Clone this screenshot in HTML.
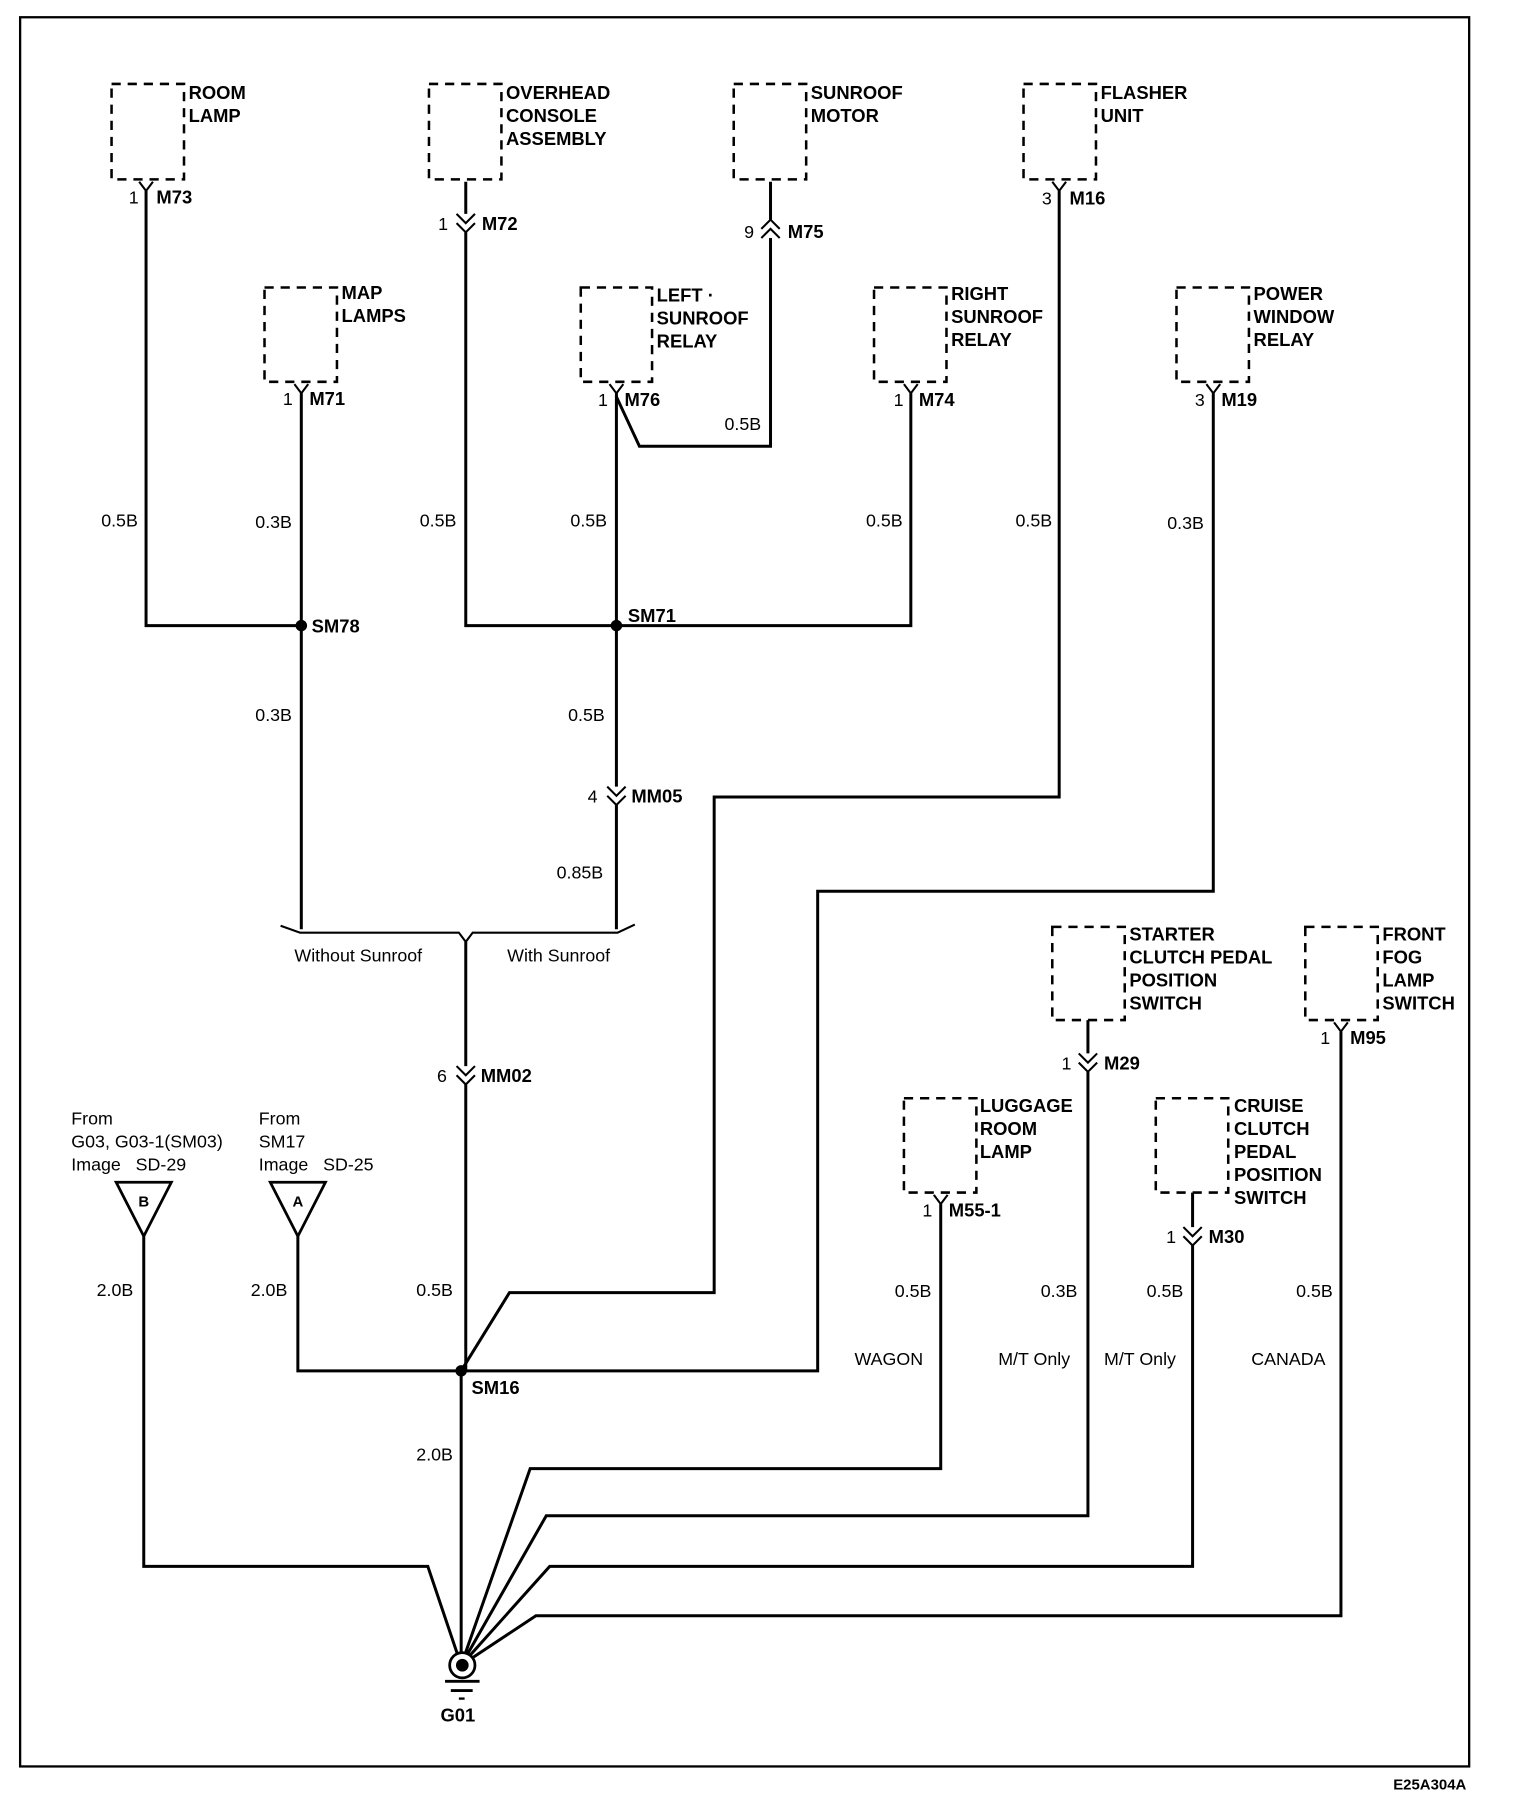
<!DOCTYPE html>
<html><head><meta charset="utf-8"><style>
html,body{margin:0;padding:0;background:#fff}
svg{display:block}
text{font-family:"Liberation Sans",Arial,sans-serif;fill:#000}
.b{font-weight:bold;font-size:16px}
.n{font-size:15.5px}
.w{stroke:#000;stroke-width:2.6;fill:none}
.d{stroke:#000;stroke-width:2.2;fill:none;stroke-dasharray:8,6}
.c{stroke:#000;stroke-width:1.8;fill:none}
</style></head><body>
<svg width="1520" height="1806" viewBox="0 0 1321.7 1570.4" preserveAspectRatio="none" xmlns="http://www.w3.org/2000/svg">
<rect x="17.5" y="15" width="1260" height="1521" fill="none" stroke="#000" stroke-width="2"/>
<text x="1275" y="1556" class="b" text-anchor="end" style="font-size:13px">E25A304A</text>

<rect class="d" x="97" y="73" width="63" height="83"/>
<rect class="d" x="373" y="73" width="63" height="83"/>
<rect class="d" x="638" y="73" width="63" height="83"/>
<rect class="d" x="890" y="73" width="63" height="83"/>
<rect class="d" x="230" y="250" width="63" height="82"/>
<rect class="d" x="505" y="250" width="62" height="82"/>
<rect class="d" x="760" y="250" width="63" height="82"/>
<rect class="d" x="1023" y="250" width="63" height="82"/>
<rect class="d" x="915" y="806" width="63" height="81"/>
<rect class="d" x="1135" y="806" width="63" height="81"/>
<rect class="d" x="786" y="955" width="63" height="82"/>
<rect class="d" x="1005" y="955" width="63" height="82"/>

<g class="b">
<text x="164" y="86">ROOM</text><text x="164" y="106">LAMP</text>
<text x="440" y="86">OVERHEAD</text><text x="440" y="106">CONSOLE</text><text x="440" y="126">ASSEMBLY</text>
<text x="705" y="86">SUNROOF</text><text x="705" y="106">MOTOR</text>
<text x="957" y="86">FLASHER</text><text x="957" y="106">UNIT</text>
<text x="297" y="260">MAP</text><text x="297" y="280">LAMPS</text>
<text x="571" y="262">LEFT ·</text><text x="571" y="282">SUNROOF</text><text x="571" y="302">RELAY</text>
<text x="827" y="261">RIGHT</text><text x="827" y="281">SUNROOF</text><text x="827" y="301">RELAY</text>
<text x="1090" y="261">POWER</text><text x="1090" y="281">WINDOW</text><text x="1090" y="301">RELAY</text>
<text x="982" y="818">STARTER</text><text x="982" y="838">CLUTCH PEDAL</text><text x="982" y="858">POSITION</text><text x="982" y="878">SWITCH</text>
<text x="1202" y="818">FRONT</text><text x="1202" y="838">FOG</text><text x="1202" y="858">LAMP</text><text x="1202" y="878">SWITCH</text>
<text x="852" y="967">LUGGAGE</text><text x="852" y="987">ROOM</text><text x="852" y="1007">LAMP</text>
<text x="1073" y="967">CRUISE</text><text x="1073" y="987">CLUTCH</text><text x="1073" y="1007">PEDAL</text><text x="1073" y="1027">POSITION</text><text x="1073" y="1047">SWITCH</text>
<text x="136" y="177">M73</text><text x="269" y="352">M71</text><text x="419" y="200">M72</text>
<text x="685" y="207">M75</text><text x="930" y="178">M16</text><text x="543" y="353">M76</text>
<text x="799" y="353">M74</text><text x="1062" y="353">M19</text>
<text x="546" y="541">SM71</text><text x="271" y="550">SM78</text>
<text x="549" y="698">MM05</text><text x="418" y="941">MM02</text>
<text x="410" y="1212">SM16</text>
<text x="960" y="930">M29</text><text x="1174" y="908">M95</text>
<text x="825" y="1058">M55-1</text><text x="1051" y="1081">M30</text>
<text x="383" y="1497">G01</text>
</g>
<g class="n">
<text x="112" y="177">1</text><text x="246" y="352">1</text><text x="381" y="200">1</text>
<text x="647" y="207">9</text><text x="906" y="178">3</text><text x="520" y="353">1</text>
<text x="777" y="353">1</text><text x="1039" y="353">3</text>
<text x="511" y="698">4</text><text x="380" y="941">6</text>
<text x="923" y="930">1</text><text x="1148" y="908">1</text>
<text x="802" y="1058">1</text><text x="1014" y="1081">1</text>
<text x="88" y="458">0.5B</text><text x="222" y="459">0.3B</text><text x="365" y="458">0.5B</text>
<text x="496" y="458">0.5B</text><text x="753" y="458">0.5B</text><text x="883" y="458">0.5B</text>
<text x="1015" y="460">0.3B</text><text x="630" y="374">0.5B</text>
<text x="222" y="627">0.3B</text><text x="494" y="627">0.5B</text><text x="484" y="764">0.85B</text>
<text x="256" y="836">Without Sunroof</text><text x="441" y="836">With Sunroof</text>
<text x="62" y="978">From</text><text x="62" y="998">G03, G03-1(SM03)</text><text x="62" y="1018">Image&#160;&#160;&#160;SD-29</text>
<text x="225" y="978">From</text><text x="225" y="998">SM17</text><text x="225" y="1018">Image&#160;&#160;&#160;SD-25</text>
<text x="84" y="1127">2.0B</text><text x="218" y="1127">2.0B</text><text x="362" y="1127">0.5B</text>
<text x="362" y="1270">2.0B</text>
<text x="778" y="1128">0.5B</text><text x="905" y="1128">0.3B</text><text x="997" y="1128">0.5B</text><text x="1127" y="1128">0.5B</text>
<text x="743" y="1187">WAGON</text><text x="868" y="1187">M/T Only</text><text x="960" y="1187">M/T Only</text><text x="1088" y="1187">CANADA</text>
</g>

<g class="c">
<path d="M121 158 L127 166 L133 158"/>
<path d="M256 334 L262 342 L268 334"/>
<path d="M530 334 L536 342 L542 334"/>
<path d="M786 334 L792 342 L798 334"/>
<path d="M1049 334 L1055 342 L1061 334"/>
<path d="M915 158 L921 166 L927 158"/>
<path d="M1160 889 L1166 897 L1172 889"/>
<path d="M812 1039 L818 1047 L824 1039"/>
<path d="M397 186 L405 194 L413 186 M397 194 L405 202 L413 194"/>
<path d="M662 199 L670 191 L678 199 M662 207 L670 199 L678 207"/>
<path d="M528 684 L536 692 L544 684 M528 692 L536 700 L544 692"/>
<path d="M397 927 L405 935 L413 927 M397 935 L405 943 L413 935"/>
<path d="M938 916 L946 924 L954 916 M938 924 L946 932 L954 924"/>
<path d="M1029 1067 L1037 1075 L1045 1067 M1029 1075 L1037 1083 L1045 1075"/>
<path d="M244 805 L261 811 L399 811 L405 819 L411 811 L537 811 L552 804"/>
</g>

<g class="w">
<path d="M127 166 V544 H262"/>
<path d="M262 342 V808"/>
<path d="M405 158 V186 M405 202 V544 H792 V342"/>
<path d="M670 158 V191 M670 207 V388 H556 L536 345"/>
<path d="M536 342 V684 M536 700 V808"/>
<path d="M921 166 V693 H621 V1124 H443 L401 1192"/>
<path d="M1055 342 V775 H711 V1192 H259 V1075"/>
<path d="M405 819 V927 M405 943 V1192"/>
<path d="M401 1192 V1448"/>
<path d="M125 1075 V1362 H372 L401 1448"/>
<path d="M946 887 V916 M946 932 V1318 H475 L401 1448"/>
<path d="M1166 897 V1405 H466 L401 1448"/>
<path d="M818 1047 V1277 H461 L401 1448"/>
<path d="M1037 1037 V1067 M1037 1083 V1362 H478 L401 1448"/>
</g>
<circle cx="262" cy="544" r="5"/>
<circle cx="536" cy="544" r="5"/>
<circle cx="401" cy="1192" r="5"/>

<path d="M101 1028 L149 1028 L125 1075 Z" fill="#fff" stroke="#000" stroke-width="2.4"/>
<path d="M235 1028 L283 1028 L259 1075 Z" fill="#fff" stroke="#000" stroke-width="2.4"/>
<text x="125" y="1049" class="b" text-anchor="middle" style="font-size:13px">B</text>
<text x="259" y="1049" class="b" text-anchor="middle" style="font-size:13px">A</text>

<circle cx="402" cy="1448" r="11" fill="#fff" stroke="#000" stroke-width="2.4"/>
<circle cx="402" cy="1448" r="5.5"/>
<line x1="387" y1="1462" x2="417" y2="1462" stroke="#000" stroke-width="2.5"/>
<line x1="392" y1="1470" x2="411" y2="1470" stroke="#000" stroke-width="2.5"/>
<line x1="399" y1="1477" x2="404" y2="1477" stroke="#000" stroke-width="2"/>
</svg>
</body></html>
